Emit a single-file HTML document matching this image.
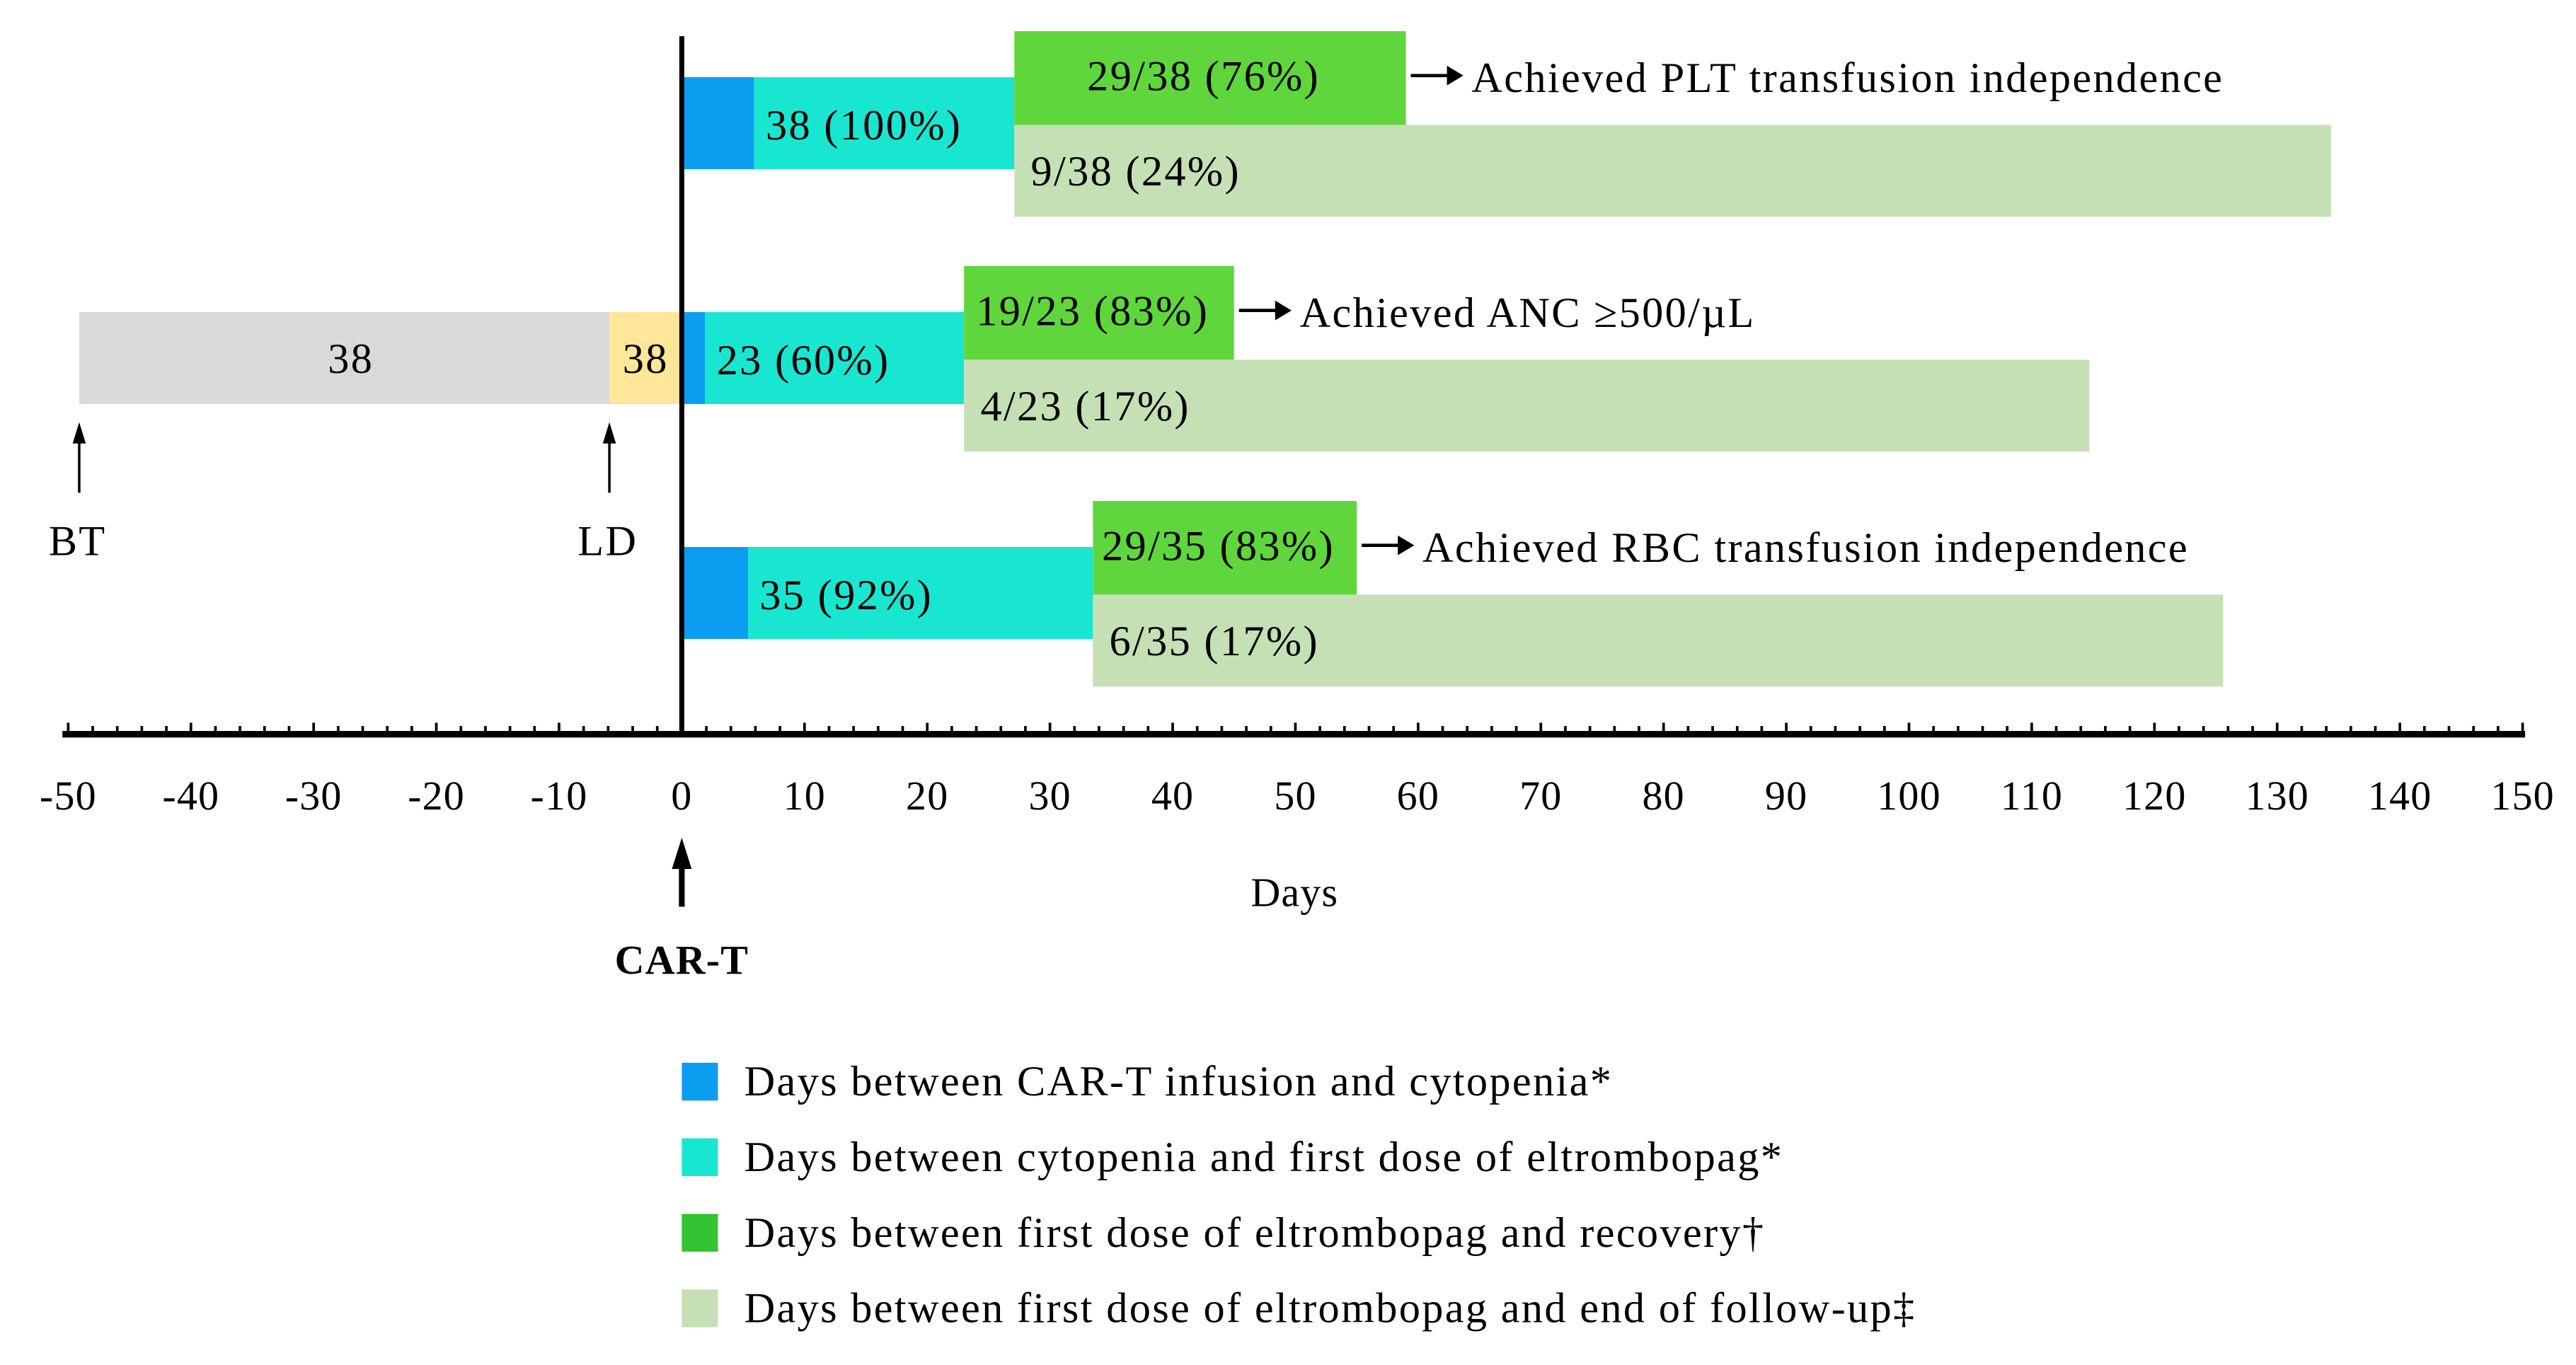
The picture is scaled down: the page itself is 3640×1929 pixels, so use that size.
<!DOCTYPE html>
<html><head><meta charset="utf-8"><style>
html,body{margin:0;padding:0;background:#fff}
svg{display:block}
text{font-family:"Liberation Serif",serif;fill:#000}
.big{font-size:26px;letter-spacing:1px}
.tick{font-size:25px;letter-spacing:0.5px}
</style></head><body>
<svg id="chart" width="3640" height="1929" viewBox="0 0 1568 831" preserveAspectRatio="none" xmlns="http://www.w3.org/2000/svg"></svg>
<script>
// ---- data ----
const rowNames = ["PLT", "ANC", "RBC"];
const cytopeniaEnd = [5.9, 1.9, 5.4];
const firstDose = [27.1, 23.0, 33.5];
const recoveryEnd = [59.0, 45.0, 55.0];
const followUpEnd = [134.4, 114.7, 125.6];
const cytopeniaLabels = ["38 (100%)", "23 (60%)", "35 (92%)"];
const recoveredLabels = ["29/38 (76%)", "19/23 (83%)", "29/35 (83%)"];
const notRecoveredLabels = ["9/38 (24%)", "4/23 (17%)", "6/35 (17%)"];
const outcomeLabels = ["Achieved PLT transfusion independence", "Achieved ANC \u2265500/\u00b5L", "Achieved RBC transfusion independence"];
const preStart = [-49.1];
const ldDay = [-5.9];
const preLabels = ["38", "38"];
const tickValues = [-50,-40,-30,-20,-10,0,10,20,30,40,50,60,70,80,90,100,110,120,130,140,150];
const legendLabels = ["Days between CAR-T infusion and cytopenia*","Days between cytopenia and first dose of eltrombopag*","Days between first dose of eltrombopag and recovery\u2020","Days between first dose of eltrombopag and end of follow-up\u2021"];

// ---- scales ----
const x0 = 415, pxPerDay = 7.47;
function xs(d){ return x0 + d * pxPerDay; }
const rowMid = [75, 218, 361];
const barH = 56;

const svg = document.getElementById('chart');
const NS = "http://www.w3.org/2000/svg";
function mk(tag, attrs, parent){
  const e = document.createElementNS(NS, tag);
  for (const k in attrs) e.setAttribute(k, attrs[k]);
  (parent || svg).appendChild(e);
  return e;
}
function txt(s, x, y, cls, anchor, parent, weight){
  const t = mk('text', {x:x, y:y, 'class':cls, 'text-anchor':anchor||'start', 'dominant-baseline':'middle'}, parent);
  if (weight) t.setAttribute('font-weight', weight);
  t.textContent = s;
  return t;
}
const C = {blue:"#0d9df0", teal:"#19e6d0", green:"#5fd63c", lgreen:"#c5e0b4", gray:"#d9d9d9", yellow:"#ffe699", lgGreen:"#33c433"};

// ---- bars ----
rowNames.forEach((r, i) => {
  const g = mk('g', {});
  
  
  const mid = rowMid[i];
  const b1 = mk('rect', {x:xs(0), y:mid-barH/2, width:xs(cytopeniaEnd[i])-xs(0), height:barH, fill:C.blue}, g);
  
  
  const b2 = mk('rect', {x:xs(cytopeniaEnd[i]), y:mid-barH/2, width:xs(firstDose[i])-xs(cytopeniaEnd[i]), height:barH, fill:C.teal}, g);
  
  
  txt(cytopeniaLabels[i], xs(cytopeniaEnd[i]) + 7, mid + 4, 'big', 'start', g);
  const b3 = mk('rect', {x:xs(firstDose[i]), y:mid-barH, width:xs(recoveryEnd[i])-xs(firstDose[i]), height:barH+1, fill:C.green}, g);
  
  
  txt(recoveredLabels[i], (xs(firstDose[i]) + xs(recoveryEnd[i]))/2 - 4, mid - barH/2 + 2, 'big', 'middle', g);
  const b4 = mk('rect', {x:xs(firstDose[i]), y:mid+1, width:xs(followUpEnd[i])-xs(firstDose[i]), height:barH, fill:C.lgreen}, g);
  
  
  txt(notRecoveredLabels[i], xs(firstDose[i]) + 10, mid + barH/2 + 4, 'big', 'start', g);
  const ax = xs(recoveryEnd[i]) + 3, ay = mid - barH/2 - 1;
  mk('line', {x1:ax, y1:ay, x2:ax+24, y2:ay, stroke:'#000', 'stroke-width':2}, g);
  mk('polygon', {points:`${ax+32},${ay} ${ax+22},${ay-6} ${ax+22},${ay+6}`, fill:'#000'}, g);
  const ot = txt(outcomeLabels[i], ax + 37, ay + 4, 'big', 'start', g);
  
  
});

const pm = rowMid[1];
const gb = mk('rect', {x:xs(preStart[0]), y:pm-barH/2, width:xs(ldDay[0])-xs(preStart[0]), height:barH, fill:C.gray});


txt(preLabels[0], (xs(preStart[0])+xs(ldDay[0]))/2 + 4, pm+3, 'big', 'middle');
const yb = mk('rect', {x:xs(ldDay[0]), y:pm-barH/2, width:xs(0)-xs(ldDay[0]), height:barH, fill:C.yellow});


txt(preLabels[1], (xs(ldDay[0])+xs(0))/2, pm+3, 'big', 'middle');

[[preStart[0], "BT"], [ldDay[0], "LD"]].forEach(([d, lab]) => {
  const x = xs(d);
  mk('line', {x1:x, y1:300, x2:x, y2:266, stroke:'#000', 'stroke-width':1.5});
  mk('polygon', {points:`${x},${257} ${x-4},${270} ${x+4},${270}`, fill:'#000'});
  const t = txt(lab, x - 1, 332, 'big', 'middle');
  
  
});

const va = mk('line', {x1:xs(0), y1:22, x2:xs(0), y2:448, stroke:'#000', 'stroke-width':3});



const axY = 447;
const xa = mk('line', {x1:38, y1:axY, x2:1537, y2:axY, stroke:'#000', 'stroke-width':4});


for (let d = -50; d <= 150; d += 2) {
  const h = (d % 10 === 0) ? 7 : 5;
  mk('line', {x1:xs(d), y1:axY-h, x2:xs(d), y2:axY, stroke:'#000', 'stroke-width':1.6});
}
tickValues.forEach(v => {
  const t = txt(String(v), xs(v), 487, 'tick', 'middle');
  
  
});
const xt = txt("Days", 788, 546, 'tick', 'middle');



mk('line', {x1:xs(0), y1:552, x2:xs(0), y2:525, stroke:'#000', 'stroke-width':3.5});
mk('polygon', {points:`${xs(0)},${510} ${xs(0)-6},${529} ${xs(0)+6},${529}`, fill:'#000'});
const ct = txt("CAR-T", xs(0), 587, 'tick', 'middle', null, 'bold');



const legColors = [C.blue, C.teal, C.lgGreen, C.lgreen];
legendLabels.forEach((lab, i) => {
  const g = mk('g', {});
  
  
  const y = 647 + i * 46;
  mk('rect', {x:415, y:y, width:22, height:23, fill:legColors[i]}, g);
  txt(lab, 453, y + 14, 'big', 'start', g);
});
</script>
</body></html>
